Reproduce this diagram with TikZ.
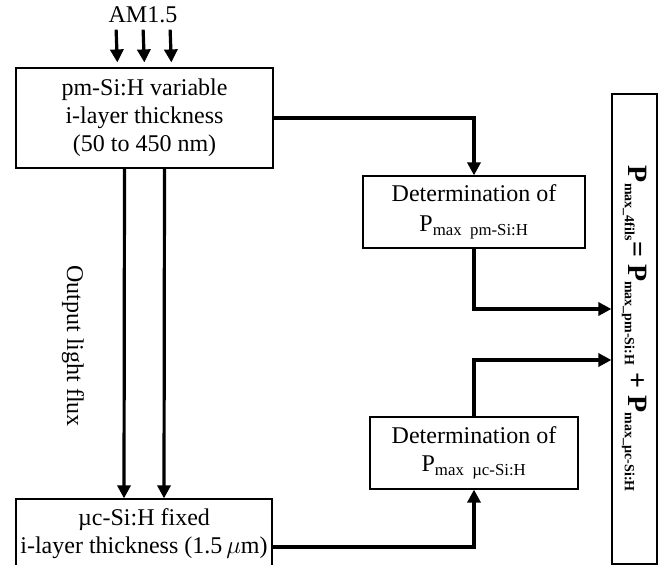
\documentclass[tikz,border=0pt]{standalone}
\usepackage{fontspec}
\setmainfont{Liberation Serif}
\usetikzlibrary{arrows.meta,positioning}
\tikzset{box/.style={draw, line width=1.2pt, align=center, inner sep=0pt, font=\fontsize{24}{28}\selectfont},
flow/.style={line width=3.2pt, -{Triangle[width=13pt,length=13pt]}}}

\begin{document}
\begin{tikzpicture}[x=1pt,y=-1pt]
\useasboundingbox (0,0) rectangle (670,565);

%cells
\node[box, minimum width=257pt, minimum height=100pt] (pm) at (144.5,118) {pm-Si:H variable\\i-layer thickness\\(50 to 450 nm)};
\node[box, minimum width=256pt, minimum height=70pt] (uc) at (144,534) {µc-Si:H fixed\\i-layer thickness (1.5\,$\mu$m)};

%determination
\node[box, minimum width=222pt, minimum height=72pt] (dpm) at (474,212) {Determination of\\[2pt]P\textsubscript{max\ \ pm-Si:H}};
\node[box, minimum width=208pt, minimum height=72pt] (duc) at (474,453) {Determination of\\P\textsubscript{max\ \ µc-Si:H}};

%sum
\node[box, rotate=-90, minimum width=470pt, minimum height=45pt, font=\fontsize{28}{30}\selectfont\bfseries] (sum) at (634.5,329)
  {P\textsubscript{\fontsize{14}{14}\selectfont max\_4fils}= P\textsubscript{\fontsize{14}{14}\selectfont max\_pm-Si:H} + P\textsubscript{\fontsize{14}{14}\selectfont max\_µc-Si:H}};

%light
\node[font=\fontsize{24}{28}\selectfont] (am) at (143,15) {AM1.5};
\foreach \dx in {-27,0,27}
  \draw[flow, shorten <=3pt, shorten >=5pt] ([xshift=\dx pt]am.south) -- ([xshift=\dx pt]pm.north);
\foreach \dx in {-20,20}
  \draw[flow] ([xshift=\dx pt]pm.south) -- ([xshift=\dx pt]uc.north);
\node[rotate=-90, font=\fontsize{24}{28}\selectfont] (out) at (73,346) {Output light flux};

%connectors
\draw[flow] (pm.east) -| (dpm.north);
\draw[flow] (dpm.south) |- ([yshift=20pt]sum.south);
\draw[flow] ([yshift=-13pt]uc.east) -| (duc.south);
\draw[flow] (duc.north) |- ([yshift=-31pt]sum.south);
\end{tikzpicture}
\end{document}
